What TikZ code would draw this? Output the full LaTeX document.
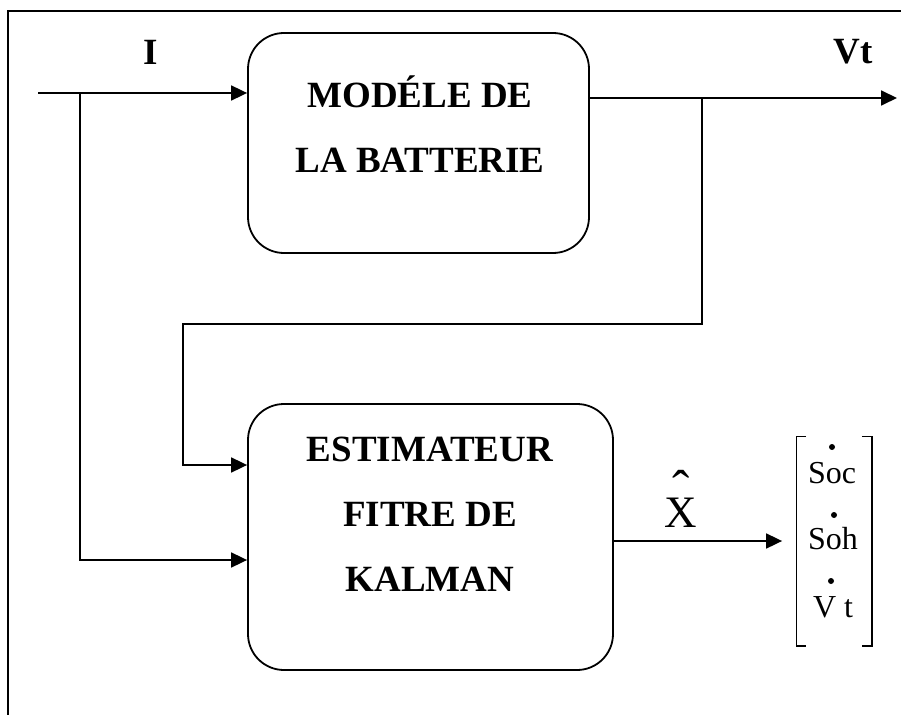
\documentclass[tikz,border=0pt]{standalone}
\usepackage{fontspec}
\setmainfont{Liberation Serif}
\usetikzlibrary{arrows.meta,positioning}

\tikzset{
  bloc/.style={draw, line width=1.8pt, rounded corners=36pt, inner sep=0pt},
  titre/.style={font=\fontsize{37}{65}\selectfont\bfseries, align=center, inner sep=0pt},
  etat/.style={font=\fontsize{32}{32}\selectfont, inner sep=0pt, anchor=base},
  crochet/.style={line width=1.2pt},
}

\begin{document}
\begin{tikzpicture}[x=1pt,y=-1pt,>={Triangle[length=16pt,width=15pt]},line width=1.8pt]
  \clip (0,0) rectangle (901,714);
  % cadre (only top and left edges fall inside the page)
  \draw (8,730) |- (910,11);

  % blocs
  \node[bloc,minimum width=341pt,minimum height=220pt] (modele) at (418.5,143) {};
  \node[titre] (modeleTxt) at (420,124) {MODÉLE DE\\LA BATTERIE};
  \node[bloc,minimum width=365pt,minimum height=266pt] (kalman) at (430.5,537) {};
  \node[titre] (kalmanTxt) at (430,514) {ESTIMATEUR\\FITRE DE\\KALMAN};

  % entree I
  \coordinate (iIn) at (38,93);
  \coordinate (iBr) at (80,93);
  \coordinate (iBas) at (80,560);
  \draw[->] (iIn) -- (iIn -| modele.west);
  \draw[->] (iBr) -- (iBas) -- (iBas -| kalman.west);
  \node[titre] (iLab) at (151,52) {I};

  % sortie Vt and feedback to the estimator
  \coordinate (vtOut) at (897,98);
  \coordinate (vtBr) at (702,98);
  \coordinate (retour) at (183,324);
  \coordinate (kIn) at (183,465);
  \draw[->] (vtOut -| modele.east) -- (vtOut);
  \draw[->] (vtBr) |- (retour) -- (kIn) -- (kIn -| kalman.west);
  \node[titre] (vtLab) at (853,52) {Vt};

  % vecteur d'etat estime
  \node[minimum width=74pt,minimum height=208pt,inner sep=0pt] (vecteur) at (834,541) {};
  \draw[crochet] ([xshift=10pt]vecteur.north west) -| (vecteur.south west) -- ++(10pt,0);
  \draw[crochet] ([xshift=-10pt]vecteur.north east) -| (vecteur.south east) -- ++(-10pt,0);
  \draw[->] (kalman.east |- vecteur.west) -- ([xshift=-14pt]vecteur.west);
  \node[font=\fontsize{45}{45}\selectfont,inner sep=0pt] (xLab) at (681,513) {X};
  \node[font=\fontsize{52}{52}\selectfont,inner sep=0pt,anchor=base] (xChap) at (681,482) {\raisebox{-24pt}[12pt][0pt]{ˆ}};

  \node[etat] (soc) at (832,483) {Soc};
  \node[etat] (soh) at (833,549) {Soh};
  \node[etat] (vt) at (833,617) {V t};
  \foreach \x/\y in {832/447, 834/515, 831/581}
    \fill (\x,\y) circle (3pt);
\end{tikzpicture}
\end{document}
